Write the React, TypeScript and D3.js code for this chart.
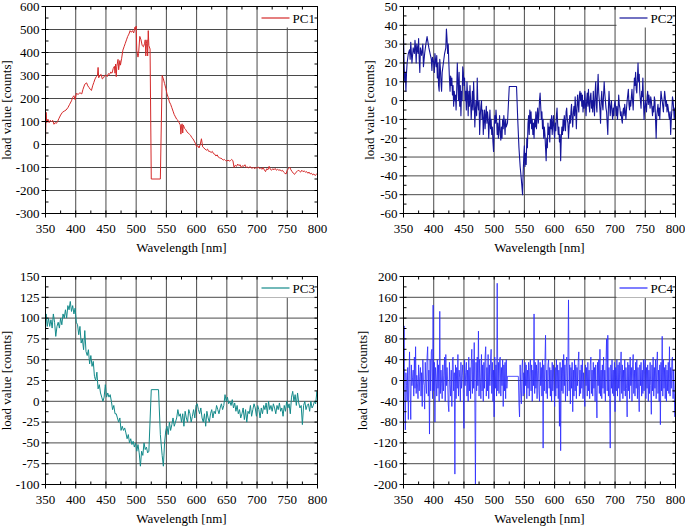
import React from 'react';
import * as d3 from 'd3';

const W = 685;
const H = 528;

const xTicks = [350, 400, 450, 500, 550, 600, 650, 700, 750, 800];
const pc1Ticks = [-300, -200, -100, 0, 100, 200, 300, 400, 500, 600];
const pc2Ticks = [-60, -50, -40, -30, -20, -10, 0, 10, 20, 30, 40, 50];
const pc3Ticks = [-100, -75, -50, -25, 0, 25, 50, 75, 100, 125, 150];
const pc4Ticks = [-200, -160, -120, -80, -40, 0, 40, 80, 120, 160, 200];

const pc1: [number, number][] = [
  [350,25],[351,140],[352,95],[354,110],[356,95],[358,105],[360,100],[362,105],[364,88],[366,95],[368,92],[370,100],
  [372,112],[375,128],[378,140],[381,145],[384,150],[387,160],[390,175],[393,190],[395,205],[397,212],[399,195],[401,222],
  [404,218],[407,225],[410,220],[412,240],[415,262],[418,268],[420,255],[422,248],[424,240],[426,235],[428,255],[430,270],
  [432,285],[434,295],[436,300],[437,335],[438,290],[440,300],[442,305],[444,285],[446,290],[448,300],[450,302],[452,295],
  [454,308],[456,305],[458,315],[460,310],[462,330],[464,340],[465,310],[466,350],[467,295],[468,340],[470,370],[471,325],
  [473,365],[474,345],[476,375],[478,410],[480,425],[482,440],[484,455],[486,470],[488,480],[490,495],[492,488],[494,495],
  [496,485],[498,510],[499,500],[500,515],[501,410],[503,380],[504,395],[506,470],[508,455],[510,430],[512,425],[514,440],
  [515,455],[516,385],[517,440],[518,455],[519,385],[520,495],[521,430],[523,415],[525,-150],[540,-150],[543,300],[545,285],
  [547,265],[549,245],[551,220],[553,205],[555,185],[557,175],[559,160],[561,145],[563,130],[565,120],[567,110],[569,105],
  [571,95],[573,85],[574,45],[575,80],[576,90],[577,50],[578,85],[580,70],[582,65],[584,55],[586,50],[588,45],[590,40],
  [592,30],[594,25],[596,15],[598,5],[600,-10],[602,-5],[604,-15],[606,0],[608,25],[610,-10],[612,-15],[614,-20],[616,-25],
  [618,-20],[620,-30],[622,-30],[624,-35],[626,-30],[628,-40],[630,-42],[632,-50],[634,-45],[636,-55],[638,-58],[640,-60],
  [642,-62],[644,-68],[646,-65],[648,-70],[650,-72],[652,-68],[654,-72],[656,-70],[658,-65],[660,-70],[662,-100],[664,-90],
  [666,-95],[668,-85],[670,-92],[672,-88],[674,-100],[676,-92],[678,-95],[680,-88],[682,-100],[684,-98],[686,-102],[688,-96],
  [690,-100],[692,-104],[694,-98],[696,-106],[698,-100],[700,-103],[702,-98],[704,-105],[706,-102],[708,-108],[710,-100],
  [712,-110],[714,-118],[716,-105],[718,-110],[720,-95],[722,-108],[724,-112],[726,-105],[728,-110],[730,-104],[732,-112],
  [734,-108],[736,-112],[738,-110],[740,-115],[742,-112],[744,-120],[746,-125],[748,-128],[750,-112],[752,-105],[754,-98],
  [756,-110],[758,-118],[760,-125],[762,-130],[764,-122],[766,-118],[768,-112],[770,-115],[772,-120],[774,-112],[776,-118],
  [778,-115],[780,-120],[782,-118],[784,-125],[786,-120],[788,-128],[790,-125],[792,-132],[794,-128],[796,-135],[798,-130],[800,-125]
];

const pc2: [number, number][] = [
  [350,35],[351,20],[352,10],[353,15],[354,5],[355,15],[356,20],[358,25],[360,27],[361,22],[362,31],[364,20],[366,28],[368,25],
  [369,32],[370,28],[371,20],[372,30],[374,25],[375,33],[376,22],[377,15],[378,28],[380,24],[382,30],[383,18],[385,25],[387,30],
  [389,34],[390,32],[392,28],[394,25],[396,22],[397,16],[398,23],[400,20],[401,15],[402,25],[404,18],[405,24],[406,12],[407,20],
  [408,8],[409,5],[410,22],[411,17],[412,10],[413,5],[414,15],[416,20],[418,25],[420,28],[421,38],[422,33],[423,25],[424,30],
  [425,20],[426,12],[427,5],[428,13],[429,8],[430,12],[431,3],[432,8],[433,-3],[434,5],[435,0],[436,3],[437,-5],[438,5],[439,20],
  [440,10],[441,0],[442,15],[443,-3],[444,8],[445,-8],[446,5],[447,0],[448,18],[449,15],[450,8],[451,12],[452,0],[453,5],[454,-5],
  [455,10],[456,3],[457,-8],[458,5],[459,-3],[460,8],[461,0],[462,-10],[463,-3],[464,5],[465,-5],[466,10],[467,0],[468,-14],
  [469,-5],[470,0],[471,-8],[472,12],[473,-2],[474,-5],[475,0],[476,-18],[477,-8],[478,-3],[479,0],[480,-10],[481,-5],[482,-18],
  [483,-10],[484,-5],[485,-15],[486,-8],[487,-3],[488,-12],[489,-6],[490,-10],[491,-20],[492,-12],[493,-5],[494,-15],[495,-10],
  [496,-18],[497,-14],[498,-22],[499,-27],[500,-15],[501,-8],[502,-12],[503,-5],[504,-10],[505,-18],[506,-12],[507,-20],[508,-15],
  [509,-8],[510,-18],[511,-21],[512,-14],[513,-20],[514,-10],[515,-15],[516,-8],[517,-12],[518,-18],[519,-10],[520,-14],[522,-12],
  [525,7.5],[537,7.5],[539,-10],[541,-25],[543,-35],[545,-42],[547,-50],[548,-38],[549,-30],[550,-24],[551,-35],[552,-28],
  [553,-34],[554,-20],[555,-25],[556,-12],[557,-8],[558,-18],[559,-5],[560,-12],[561,-6],[562,-15],[563,-10],[564,-18],[565,-12],
  [566,-20],[567,-10],[568,-14],[569,-6],[570,-15],[571,-8],[572,-4],[573,-12],[574,-8],[575,0],[576,4],[577,-3],[578,-10],
  [579,-6],[580,-15],[581,-10],[582,-20],[583,-14],[584,-18],[585,-25],[586,-32],[587,-20],[588,-25],[589,-12],[590,-18],
  [591,-14],[592,-22],[593,-10],[594,-15],[595,-8],[596,-18],[597,-12],[598,-8],[599,-16],[600,-20],[601,-12],[602,-16],
  [603,-8],[604,-4],[605,-12],[606,-18],[607,-14],[608,-22],[609,-18],[610,-32],[611,-20],[612,-14],[613,-18],[614,-10],[615,-16],
  [616,-8],[617,-12],[618,-16],[619,-6],[620,-4],[621,-10],[622,-12],[623,-20],[624,-14],[625,-8],[626,-12],[627,-6],[628,-2],
  [629,-10],[630,-14],[631,-6],[632,-3],[633,-8],[634,2],[635,-5],[636,-15],[637,-4],[638,3],[639,-2],[640,-6],[641,3],[642,5],
  [643,0],[644,4],[645,-3],[646,3],[647,-6],[648,0],[649,-4],[650,5],[651,-2],[652,-8],[653,0],[654,4],[655,-3],[656,6],[657,-2],
  [658,-6],[659,2],[660,4],[661,-4],[662,0],[663,-6],[664,5],[665,-2],[666,-8],[667,4],[668,10],[669,-2],[670,-6],[671,6],
  [672,14],[673,4],[674,0],[675,-5],[676,-12],[677,0],[678,5],[679,-2],[680,-5],[681,3],[682,10],[683,4],[684,0],[685,-4],
  [686,-6],[687,-12],[688,-18],[689,-4],[690,5],[691,-2],[692,-8],[693,-3],[694,0],[695,-6],[696,-10],[697,-4],[698,-8],[699,-2],
  [700,0],[701,-4],[702,-8],[703,-3],[704,-10],[705,-5],[706,3],[707,-2],[708,-4],[709,-8],[710,-6],[711,-10],[712,-12],
  [713,-6],[714,-4],[715,-8],[716,-2],[717,-6],[718,-10],[719,-4],[720,0],[721,3],[722,6],[723,-2],[724,-5],[725,0],[726,-3],
  [727,2],[728,6],[729,0],[730,-5],[731,4],[732,12],[733,8],[734,15],[735,6],[736,4],[737,12],[738,20],[739,10],[740,14],[741,4],
  [742,0],[743,-4],[744,5],[745,2],[746,12],[747,0],[748,-10],[749,-4],[750,0],[751,-3],[752,-6],[753,2],[754,5],[755,-2],[756,3],
  [757,0],[758,-4],[759,2],[760,0],[761,-4],[762,-8],[763,-3],[764,-6],[765,2],[766,0],[767,-10],[768,-20],[769,-8],[770,-5],
  [771,-2],[772,-8],[773,-4],[774,-10],[775,-2],[776,5],[777,2],[778,0],[779,-3],[780,-6],[781,0],[782,5],[783,2],[784,-3],
  [785,0],[786,-6],[787,-2],[788,-4],[789,-8],[790,-10],[791,-6],[792,-18],[793,-10],[794,-5],[795,2],[796,0],[797,-5],[798,-10],
  [799,-4],[800,-6]
];

const pc3: [number, number][] = [
  [350,85],[351,105],[353,90],[355,100],[357,90],[359,98],[361,88],[363,105],[365,95],[367,78],[369,90],[371,95],[373,88],
  [375,100],[377,92],[379,105],[381,100],[383,110],[385,100],[387,115],[389,110],[391,120],[393,108],[395,115],[397,105],
  [399,112],[401,95],[403,92],[405,80],[407,90],[409,70],[411,75],[413,62],[415,85],[417,60],[419,55],[421,62],[423,45],
  [425,55],[427,42],[429,48],[431,30],[433,25],[435,35],[437,15],[439,20],[441,10],[443,5],[445,0],[447,5],[449,20],[451,5],
  [453,10],[455,5],[457,8],[459,0],[461,-10],[463,-5],[465,-15],[467,-15],[469,-20],[471,-25],[473,-20],[475,-35],[477,-30],
  [479,-35],[481,-32],[483,-38],[485,-45],[487,-40],[489,-50],[491,-45],[493,-52],[495,-48],[497,-55],[499,-50],[501,-60],
  [503,-52],[505,-62],[507,-78],[509,-60],[511,-65],[513,-50],[515,-58],[517,-55],[519,-62],[521,-60],[525,14],[537,14],
  [540,-40],[543,-65],[545,-78],[547,-50],[549,-35],[551,-30],[553,-40],[555,-25],[557,-35],[559,-28],[561,-20],[563,-30],
  [565,-25],[567,-20],[569,-10],[571,-18],[573,-15],[575,-25],[577,-15],[579,-30],[581,-12],[583,-20],[585,-25],[587,-10],
  [589,-15],[591,-25],[593,-18],[595,-10],[597,-20],[599,-5],[601,-3],[603,-10],[605,-15],[607,-8],[609,-20],[611,-25],
  [613,-15],[615,-30],[617,-12],[619,-20],[621,-25],[623,-15],[625,-10],[627,-20],[629,-12],[631,-15],[633,-5],[635,-10],
  [637,-15],[639,-8],[641,-3],[643,-10],[645,-5],[647,8],[649,0],[651,5],[653,-3],[655,0],[657,-5],[659,2],[661,-8],[663,-2],
  [665,-12],[667,-5],[669,-15],[671,-10],[673,-20],[675,-15],[677,-8],[679,-22],[681,-10],[683,-25],[685,-12],[687,-15],
  [689,-5],[691,-18],[693,-10],[695,-3],[697,-8],[699,-18],[701,-5],[703,-10],[705,-20],[707,-8],[709,-15],[711,-5],[713,-10],
  [715,-2],[717,-15],[719,0],[721,-10],[723,-5],[725,-12],[727,-3],[729,-8],[731,-15],[733,-5],[735,-10],[737,-2],[739,-12],
  [741,-8],[743,-18],[745,-5],[747,-12],[749,0],[751,-8],[753,-3],[755,-15],[757,5],[759,12],[761,0],[763,8],[765,-5],[767,10],
  [769,-2],[771,-8],[773,-5],[775,-28],[777,-5],[779,0],[781,-10],[783,-5],[785,-3],[787,-12],[789,0],[791,-8],[793,-5],
  [795,0],[797,-3],[799,12],[800,5]
];

const pc4: [number, number][] = [
  [350,20],[351,105],[352,-30],[353,-95],[354,15],[355,-10],[356,-40],[357,25],[358,-75],[359,10],[360,55],[361,-20],[362,-75],
  [363,30],[364,-10],[365,5],[366,20],[367,-30],[368,45],[369,-15],[370,65],[371,-25],[372,10],[373,-5],[374,-35],[375,30],
  [376,-20],[377,8],[378,25],[379,-30],[380,15],[381,-50],[382,40],[383,0],[384,-10],[385,-55],[386,35],[387,-5],[388,-25],
  [389,45],[390,65],[391,-30],[392,20],[393,-103],[394,40],[395,-20],[396,55],[397,60],[398,-35],[399,145],[400,-20],[401,35],
  [402,-80],[403,25],[404,5],[405,-30],[406,40],[407,-15],[408,30],[409,-40],[410,133],[411,-25],[412,20],[413,-5],[414,-35],
  [415,30],[416,-20],[417,10],[418,45],[419,-40],[420,50],[421,-10],[422,25],[423,0],[424,-45],[425,-60],[426,35],[427,-8],
  [428,-30],[429,20],[430,-50],[431,40],[432,45],[433,-20],[434,15],[435,-180],[436,30],[437,-35],[438,25],[439,-15],[440,50],
  [441,-30],[442,20],[443,5],[444,-40],[445,35],[446,-15],[447,10],[448,30],[449,-25],[450,-92],[451,40],[452,-10],[453,15],
  [454,35],[455,-30],[456,20],[457,-40],[458,45],[459,-20],[460,25],[461,-35],[462,30],[463,60],[464,-25],[465,40],[466,-15],
  [467,73],[468,-30],[469,-200],[470,35],[471,-20],[472,45],[473,-10],[474,95],[475,-30],[476,40],[477,5],[478,-35],[479,50],
  [480,-20],[481,30],[482,-40],[483,35],[484,-15],[485,45],[486,65],[487,-30],[488,25],[489,-20],[490,50],[491,-35],[492,30],
  [493,-10],[494,40],[495,60],[496,-25],[497,35],[498,-40],[499,20],[500,-70],[501,45],[502,-15],[503,30],[504,-30],[505,187],
  [506,-20],[507,35],[508,-25],[509,40],[510,45],[511,-30],[512,25],[513,-10],[514,40],[515,-50],[516,30],[517,-20],[518,35],
  [519,-35],[520,40],[521,-15],[522,8],[540,8],[541,-45],[542,-70],[543,30],[544,-20],[545,-45],[546,25],[547,40],[548,-30],
  [549,15],[550,-25],[551,35],[552,-10],[553,30],[554,-35],[555,20],[556,-15],[557,35],[558,-30],[559,25],[560,40],[561,-20],
  [562,30],[563,-40],[564,20],[565,-10],[566,128],[567,-25],[568,35],[569,-15],[570,30],[571,-35],[572,20],[573,40],[574,-20],
  [575,-40],[576,35],[577,-10],[578,25],[579,-30],[580,40],[581,-130],[582,30],[583,-20],[584,35],[585,87],[586,-25],[587,20],
  [588,-35],[589,30],[590,40],[591,-15],[592,25],[593,-30],[594,20],[595,-40],[596,35],[597,-20],[598,30],[599,-10],[600,-50],
  [601,25],[602,-30],[603,40],[604,-15],[605,30],[606,-35],[607,20],[608,-88],[609,35],[610,-135],[611,25],[612,-20],[613,40],
  [614,-25],[615,50],[616,-10],[617,30],[618,-40],[619,25],[620,45],[621,-30],[622,35],[623,155],[624,-20],[625,30],[626,-45],
  [627,25],[628,-15],[629,35],[630,-60],[631,20],[632,-30],[633,40],[634,-20],[635,30],[636,-35],[637,25],[638,-10],[639,35],
  [640,55],[641,-30],[642,20],[643,-25],[644,30],[645,-15],[646,40],[647,-35],[648,15],[649,-20],[650,-50],[651,30],[652,-10],
  [653,25],[654,-30],[655,35],[656,-20],[657,20],[658,-35],[659,30],[660,45],[661,-25],[662,20],[663,-30],[664,35],[665,-15],
  [666,25],[667,-40],[668,30],[669,-20],[670,-72],[671,35],[672,-10],[673,40],[674,-25],[675,60],[676,-30],[677,20],[678,-35],
  [679,30],[680,-15],[681,45],[682,-25],[683,20],[684,-40],[685,35],[686,80],[687,-20],[688,87],[689,-30],[690,25],[691,-35],
  [692,-130],[693,30],[694,-15],[695,40],[696,-25],[697,20],[698,-30],[699,35],[700,-60],[701,25],[702,-20],[703,40],[704,-30],
  [705,30],[706,-15],[707,35],[708,-40],[709,20],[710,55],[711,-25],[712,30],[713,-35],[714,20],[715,-20],[716,40],[717,-30],
  [718,25],[719,-15],[720,-70],[721,35],[722,-20],[723,30],[724,-35],[725,45],[726,-10],[727,25],[728,-40],[729,30],[730,50],
  [731,-25],[732,20],[733,-30],[734,35],[735,-15],[736,40],[737,-35],[738,25],[739,-20],[740,-60],[741,30],[742,-10],[743,35],
  [744,-30],[745,20],[746,-25],[747,40],[748,-20],[749,30],[750,40],[751,-35],[752,25],[753,-15],[754,30],[755,-40],[756,20],
  [757,-25],[758,35],[759,-10],[760,-65],[761,30],[762,-20],[763,45],[764,-30],[765,25],[766,-15],[767,40],[768,-35],[769,30],
  [770,55],[771,-25],[772,20],[773,-40],[774,30],[775,-85],[776,35],[777,-20],[778,85],[779,-30],[780,40],[781,-15],[782,25],
  [783,-35],[784,30],[785,-40],[786,20],[787,-20],[788,35],[789,-25],[790,65],[791,-30],[792,25],[793,-15],[794,40],[795,45],
  [796,-35],[797,20],[798,-25],[799,-70],[800,10]
];

type Box = { x0: number; x1: number; y0: number; y1: number };

type PanelProps = {
  data: [number, number][];
  label: string;
  color: string;
  width: number;
  yTicks: number[];
  box: Box;
  yTitleX: number;
};

const FONT = "'Liberation Serif', 'Times New Roman', serif";
const GRID = '#4a4a4a';

function midpoints(t: number[]) {
  const out: number[] = [];
  for (let i = 0; i < t.length - 1; i++) out.push((t[i] + t[i + 1]) / 2);
  return out;
}

function Panel({ data, label, color, width, yTicks, box, yTitleX }: PanelProps) {
  const { x0, x1, y0, y1 } = box;
  const x = d3.scaleLinear().domain([xTicks[0], xTicks[xTicks.length - 1]]).range([x0, x1]);
  const y = d3.scaleLinear().domain([yTicks[0], yTicks[yTicks.length - 1]]).range([y1, y0]);
  const line = d3.line<[number, number]>().x(d => x(d[0])).y(d => y(d[1]));
  const xMinor = midpoints(xTicks);
  const yMinor = midpoints(yTicks);
  const clipId = 'clip-' + label;
  const lx = x1 - 59;
  return (
    <g>
      <defs>
        <clipPath id={clipId}>
          <rect x={x0} y={y0} width={x1 - x0} height={y1 - y0} />
        </clipPath>
      </defs>
      <rect x={x0} y={y0} width={x1 - x0} height={y1 - y0} fill="#fff" />
      {xTicks.slice(1, -1).map(t => (
        <line key={'gx' + t} x1={x(t)} x2={x(t)} y1={y0} y2={y1} stroke={GRID} strokeWidth={1} />
      ))}
      {yTicks.slice(1, -1).map(t => (
        <line key={'gy' + t} x1={x0} x2={x1} y1={y(t)} y2={y(t)} stroke={GRID} strokeWidth={1} />
      ))}
      <rect x={lx} y={y0} width={x1 - lx} height={21} fill="#fff" />
      <path d={line(data) || ''} fill="none" stroke={color} strokeWidth={width} strokeLinejoin="round" clipPath={`url(#${clipId})`} />
      <line x1={x1 - 56} x2={x1 - 28} y1={y0 + 11.5} y2={y0 + 11.5} stroke={color} strokeWidth={1.2} />
      <text x={x1 - 25} y={y0 + 16} fontFamily={FONT} fontSize={13} fill="#000">{label}</text>
      <rect x={x0} y={y0} width={x1 - x0} height={y1 - y0} fill="none" stroke="#000" strokeWidth={1} />
      {xTicks.map(t => (
        <g key={'xt' + t}>
          <line x1={x(t)} x2={x(t)} y1={y1 - 3} y2={y1 + 4} stroke="#000" />
          <line x1={x(t)} x2={x(t)} y1={y0} y2={y0 + 3} stroke="#000" />
          <text x={x(t)} y={y1 + 19.5} textAnchor="middle" fontFamily={FONT} fontSize={13} fill="#000">{t}</text>
        </g>
      ))}
      {xMinor.map(t => (
        <g key={'xm' + t}>
          <line x1={x(t)} x2={x(t)} y1={y1} y2={y1 - 3} stroke="#000" />
          <line x1={x(t)} x2={x(t)} y1={y0} y2={y0 + 3} stroke="#000" />
        </g>
      ))}
      {yTicks.map(t => (
        <g key={'yt' + t}>
          <line x1={x0 - 4} x2={x0 + 3} y1={y(t)} y2={y(t)} stroke="#000" />
          <line x1={x1 - 3} x2={x1} y1={y(t)} y2={y(t)} stroke="#000" />
          <text x={x0 - 6} y={y(t)} dy="0.33em" textAnchor="end" fontFamily={FONT} fontSize={13} fill="#000">{t}</text>
        </g>
      ))}
      {yMinor.map(t => (
        <g key={'ym' + t}>
          <line x1={x0} x2={x0 + 3} y1={y(t)} y2={y(t)} stroke="#000" />
          <line x1={x1 - 3} x2={x1} y1={y(t)} y2={y(t)} stroke="#000" />
        </g>
      ))}
      <text x={(x0 + x1) / 2} y={y1 + 38.5} textAnchor="middle" fontFamily={FONT} fontSize={13} fill="#000">Wavelength [nm]</text>
      <text transform={`translate(${yTitleX},${(y0 + y1) / 2}) rotate(-90)`} textAnchor="middle" fontFamily={FONT} fontSize={13} fill="#000">load value [counts]</text>
    </g>
  );
}

export default function App() {
  return (
    <svg width={W} height={H} style={{ position: 'absolute', left: 0, top: 0, background: '#fff' }}>
      <rect width={W} height={H} fill="#fff" />
      <Panel data={pc1} label="PC1" color="#d42a2a" width={1} yTicks={pc1Ticks} box={{ x0: 45.5, x1: 317.5, y0: 6.5, y1: 213.5 }} yTitleX={11} />
      <Panel data={pc2} label="PC2" color="#15159a" width={1.1} yTicks={pc2Ticks} box={{ x0: 403.5, x1: 675.5, y0: 6.5, y1: 213.5 }} yTitleX={374} />
      <Panel data={pc3} label="PC3" color="#148a8a" width={1} yTicks={pc3Ticks} box={{ x0: 45.5, x1: 317.5, y0: 276.5, y1: 484.5 }} yTitleX={11} />
      <Panel data={pc4} label="PC4" color="#2a2aff" width={0.8} yTicks={pc4Ticks} box={{ x0: 403.5, x1: 675.5, y0: 276.5, y1: 484.5 }} yTitleX={367} />
    </svg>
  );
}
